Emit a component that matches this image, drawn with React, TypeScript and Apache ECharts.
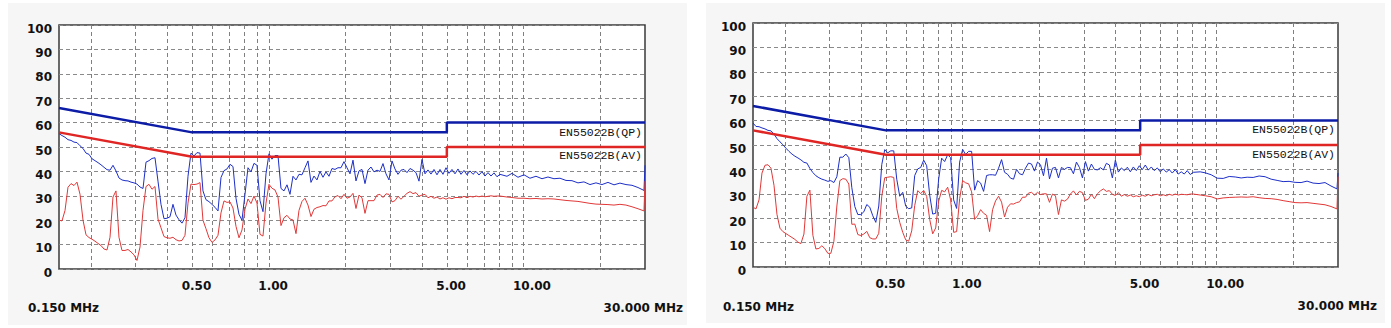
import React, { useEffect, useRef } from "react";
import * as echarts from "echarts";

// Sweep frequencies (MHz) shared by all four measured traces
const FREQ_MHZ = [
  0.1500, 0.1541, 0.1584, 0.1627, 0.1672, 0.1718, 0.1765, 0.1814, 0.1864, 0.1915,
  0.1967, 0.2021, 0.2077, 0.2134, 0.2193, 0.2253, 0.2315, 0.2379, 0.2444, 0.2511,
  0.2580, 0.2651, 0.2724, 0.2799, 0.2876, 0.2955, 0.3036, 0.3120, 0.3206, 0.3294,
  0.3384, 0.3477, 0.3573, 0.3671, 0.3772, 0.3876, 0.3982, 0.4092, 0.4204, 0.4320,
  0.4439, 0.4561, 0.4686, 0.4815, 0.4947, 0.5083, 0.5223, 0.5367, 0.5514, 0.5666,
  0.5822, 0.5982, 0.6146, 0.6315, 0.6489, 0.6668, 0.6851, 0.7039, 0.7233, 0.7432,
  0.7636, 0.7846, 0.8062, 0.8283, 0.8511, 0.8745, 0.8985, 0.9232, 0.9486, 0.9747,
  1.0015, 1.0290, 1.0573, 1.0864, 1.1163, 1.1470, 1.1785, 1.2109, 1.2442, 1.2784,
  1.3136, 1.3497, 1.3868, 1.4249, 1.4641, 1.5044, 1.5457, 1.5883, 1.6320, 1.6768,
  1.7229, 1.7703, 1.8189, 1.8689, 1.9203, 1.9731, 2.0273, 2.0831, 2.1404, 2.1993,
  2.2597, 2.3218, 2.3857, 2.4512, 2.5187, 2.5880, 2.6591, 2.7322, 2.8073, 2.8845,
  2.9638, 3.0453, 3.1290, 3.2150, 3.3035, 3.3943, 3.4876, 3.5835, 3.6821, 3.7833,
  3.8873, 3.9942, 4.1040, 4.2168, 4.3329, 4.4520, 4.5743, 4.7001, 4.8293, 4.9621,
  5.0986, 5.2388, 5.3828, 5.5308, 5.6830, 5.8392, 5.9997, 6.1647, 6.3341, 6.5083,
  6.6873, 6.8711, 7.0601, 7.2541, 7.4537, 7.6586, 7.8691, 8.0856,
  8.6138, 9.0121, 9.5144, 10.045, 10.604, 11.196, 11.820, 12.479, 13.174, 13.909,
  14.685, 15.503, 16.367, 17.280, 18.243, 19.260, 20.334, 21.467, 22.664, 23.927,
  25.261, 26.670, 28.156, 29.726, 30.0,
];

// Left panel, quasi-peak trace (dBuV)
const LEFT_QP = [
  55.5, 54.7, 54.0, 53.0, 52.7, 52.0, 51.8, 50.5, 49.4, 47.5,
  47.0, 45.2, 44.4, 43.6, 42.7, 41.7, 40.7, 40.5, 42.5, 40.2,
  37.3, 36.5, 36.2, 36.1, 35.6, 35.3, 34.8, 33.6, 33.0, 43.8,
  44.4, 45.3, 45.6, 36.0, 26.5, 20.6, 20.8, 21.4, 26.5, 22.1,
  20.2, 18.8, 21.0, 38.0, 47.5, 46.3, 47.7, 47.5, 32.0, 28.4,
  27.6, 26.5, 25.3, 23.8, 37.5, 40.3, 41.0, 42.9, 42.0, 29.0,
  22.4, 20.0, 30.6, 41.5, 39.8, 43.3, 42.5, 28.0, 23.5, 39.0,
  47.2, 45.0, 46.5, 46.5, 33.0, 32.0, 34.5, 30.6, 38.0, 36.5,
  38.8, 38.6, 41.5, 44.3, 35.5, 38.1, 36.5, 40.0, 37.6, 39.8,
  38.0, 41.2, 40.8, 41.5, 41.5, 44.0, 41.5, 39.0, 44.6, 36.1,
  40.2, 40.8, 35.0, 40.5, 41.8, 39.8, 40.5, 40.0, 43.2, 39.0,
  36.5, 44.3, 41.0, 38.8, 40.5, 40.8, 39.5, 41.2, 40.5, 39.5,
  36.0, 44.9, 39.0, 40.6, 38.9, 40.8, 38.6, 40.8, 38.8, 41.5,
  39.2, 40.8, 39.0, 41.0, 38.8, 40.4, 38.6, 40.2, 38.8, 40.0,
  38.5, 39.9, 38.1, 39.5, 38.1, 39.4, 37.8, 38.8,
  38.0, 39.2, 37.6, 38.6, 37.2, 38.0, 37.0, 37.7, 37.0, 37.2,
  36.3, 36.2, 35.3, 35.7, 34.6, 35.3, 34.6, 35.5, 34.5, 35.2,
  34.6, 34.3, 33.4, 32.2, 42.5,
];

// Left panel, average trace (dBuV)
const LEFT_AV = [
  20.0, 19.7, 24.0, 33.5, 35.0, 34.2, 35.6, 30.6, 20.0, 14.0,
  12.9, 12.2, 11.4, 10.5, 9.6, 8.2, 7.8, 13.0, 29.5, 32.0,
  13.0, 7.6, 7.6, 8.0, 7.0, 5.8, 3.5, 9.0, 24.0, 33.8,
  34.7, 32.7, 33.8, 20.5, 16.9, 13.3, 12.8, 12.6, 13.0, 12.0,
  11.5, 11.7, 13.8, 27.0, 34.8, 34.6, 34.8, 35.4, 20.0, 16.5,
  12.8, 10.9, 11.9, 13.8, 23.0, 27.9, 27.3, 27.5, 25.0, 17.5,
  12.8, 16.0, 24.5, 28.7, 26.8, 29.9, 27.0, 14.2, 13.5, 27.0,
  34.7, 33.1, 32.4, 29.5, 17.8, 21.0, 22.0, 20.5, 20.1, 14.5,
  24.0, 27.7, 29.0, 26.2, 21.5, 24.5, 25.2, 25.5, 26.0, 25.9,
  27.9, 27.9, 29.6, 30.1, 28.8, 30.6, 29.0, 29.5, 31.0, 24.8,
  30.3, 29.2, 22.8, 28.0, 28.0, 28.0, 30.3, 30.6, 29.3, 30.8,
  30.6, 27.5, 28.0, 29.8, 28.6, 29.8, 31.0, 31.7, 30.9, 31.3,
  29.8, 30.3, 30.6, 29.2, 29.8, 29.0, 29.5, 28.7, 29.2, 28.6,
  29.2, 28.8, 29.3, 29.3, 29.2, 29.8, 29.2, 29.8, 29.5, 29.9,
  29.6, 29.9, 29.6, 29.8, 30.0, 29.8, 29.9, 29.9,
  29.5, 29.3, 29.0, 29.0, 28.8, 28.9, 28.7, 28.8, 28.7, 28.4,
  28.1, 27.9, 27.7, 27.3, 26.9, 26.6, 26.5, 26.4, 26.2, 26.5,
  26.2, 25.5, 24.7, 23.8, 36.0,
];

// Right panel, quasi-peak trace (dBuV)
const RIGHT_QP = [
  59.0, 57.6, 57.5, 57.0, 56.6, 56.0, 55.8, 54.5, 52.6, 51.3,
  50.1, 48.7, 47.4, 46.3, 45.4, 44.7, 43.9, 42.9, 42.6, 40.4,
  38.7, 37.4, 36.6, 36.0, 35.6, 35.1, 35.4, 34.6, 37.0, 45.0,
  45.0, 46.3, 44.8, 32.5, 24.8, 21.5, 21.5, 22.6, 25.6, 24.5,
  21.0, 18.3, 25.0, 42.0, 48.1, 46.8, 47.6, 47.6, 36.0, 29.0,
  30.6, 24.9, 23.9, 24.2, 37.5, 40.2, 40.8, 43.8, 41.5, 29.5,
  21.7, 22.0, 36.1, 44.6, 43.2, 46.0, 44.8, 27.5, 24.0, 43.0,
  48.2, 46.1, 47.4, 47.4, 31.5, 35.4, 34.4, 31.0, 37.5, 37.8,
  37.8, 37.6, 40.5, 44.0, 38.8, 38.0, 36.4, 36.0, 40.0, 38.2,
  37.8, 40.5, 42.6, 42.2, 39.3, 43.0, 41.9, 37.4, 44.6, 36.1,
  40.5, 40.8, 36.5, 40.8, 40.0, 40.8, 40.7, 38.2, 43.0, 40.8,
  36.5, 43.2, 39.3, 42.2, 40.0, 39.8, 40.7, 39.8, 42.5, 41.8,
  36.5, 43.8, 38.9, 40.6, 39.5, 40.9, 39.0, 41.0, 39.5, 41.5,
  39.9, 41.8, 39.7, 41.0, 39.5, 40.6, 39.0, 40.2, 38.9, 39.9,
  38.5, 39.9, 38.1, 39.0, 38.1, 39.5, 37.9, 38.8,
  39.0, 38.6, 37.8, 36.4, 36.3, 37.1, 36.9, 36.5, 36.8, 36.7,
  37.3, 37.0, 36.0, 35.5, 35.0, 35.1, 34.7, 34.6, 35.2, 34.4,
  34.2, 34.6, 33.2, 32.0, 38.5,
];

// Right panel, average trace (dBuV)
const RIGHT_AV = [
  24.5, 23.8, 27.5, 38.5, 41.7, 41.9, 40.5, 33.5, 21.5, 15.9,
  14.5, 13.7, 12.9, 12.1, 11.3, 10.2, 9.6, 13.5, 29.0, 31.5,
  13.0, 7.4, 7.6, 8.7, 7.5, 5.6, 5.6, 10.5, 25.0, 35.4,
  36.2, 36.0, 34.0, 17.5, 17.6, 13.3, 12.9, 13.5, 14.6, 12.0,
  11.5, 11.5, 13.8, 29.0, 36.6, 36.8, 37.0, 36.7, 24.0, 18.3,
  14.2, 11.1, 10.6, 14.8, 25.2, 31.3, 30.1, 31.4, 28.9, 19.5,
  13.6, 16.0, 27.0, 31.4, 30.8, 32.7, 27.5, 14.2, 14.5, 28.0,
  35.4, 34.5, 34.1, 30.8, 19.5, 21.0, 23.5, 22.0, 21.2, 14.5,
  23.5, 27.1, 29.0, 26.6, 20.5, 24.5, 25.9, 25.8, 26.4, 26.7,
  28.6, 28.6, 30.3, 30.6, 29.5, 30.6, 29.7, 30.0, 30.0, 26.5,
  29.9, 29.2, 21.5, 27.5, 27.0, 27.8, 29.9, 31.2, 29.5, 31.0,
  30.5, 27.3, 27.8, 29.8, 28.0, 30.0, 31.2, 32.0, 31.0, 31.3,
  29.8, 29.3, 30.5, 29.0, 29.7, 29.0, 29.5, 28.8, 29.2, 28.8,
  29.4, 29.0, 29.7, 29.2, 29.6, 29.8, 29.2, 29.6, 29.2, 29.8,
  29.4, 29.9, 29.5, 29.8, 29.7, 29.6, 29.9, 29.9,
  29.5, 29.2, 28.8, 27.9, 28.3, 28.5, 28.6, 28.7, 28.6, 28.8,
  28.4, 28.1, 28.0, 27.7, 27.2, 26.8, 26.4, 26.3, 26.4, 26.1,
  25.8, 25.5, 24.8, 23.8, 37.0,
];

// EN55022 class B limits
const LIMIT_FREQ = [0.15, 0.5, 5, 5, 30];
const LIMIT_QP = [66, 56, 56, 60, 60];
const LIMIT_AV = [56, 46, 46, 50, 50];

const GRID_FREQ = [0.2, 0.3, 0.4, 0.5, 0.6, 0.7, 0.8, 0.9, 1, 2, 3, 4, 5, 6, 7, 8, 9, 10, 20];
const X_TICK_VALUES = [0.5, 1, 5, 10];
const X_TICK_LABELS = ["0.50", "1.00", "5.00", "10.00"];
const START_LABEL = "0.150 MHz";
const END_LABEL = "30.000 MHz";
const QP_NAME = "EN55022B(QP)";
const AV_NAME = "EN55022B(AV)";

const F_MIN = 0.15;
const F_MAX = 30;

const BOLD = "DejaVu Sans";
const LIMIT_BLUE = "#0c1ca6";
const LIMIT_RED = "#e02525";
const TRACE_BLUE = "#1d2fc6";
const TRACE_RED = "#e03838";

const lg = (f: number) => Math.log10(f);

const pairs = (fs: number[], vs: number[]) => fs.map((f, i) => [lg(f), vs[i]]);

export default function App() {
  const ref = useRef<HTMLDivElement>(null);

  useEffect(() => {
    if (!ref.current) return;
    const chart = echarts.init(ref.current, undefined, { renderer: "svg" });

    const grids = [
      { left: 59, top: 25, width: 586, height: 244 },
      { left: 753, top: 23, width: 585, height: 244 },
    ];

    const xAxisFor = (gi: number) => ({
      type: "value",
      gridIndex: gi,
      min: lg(F_MIN),
      max: lg(F_MAX),
      axisLine: { show: false },
      axisTick: { show: false, customValues: GRID_FREQ.map(lg) },
      splitLine: { show: true, lineStyle: { color: "#808080", type: [4, 3], width: 1 } },
      axisLabel: {
        customValues: X_TICK_VALUES.map(lg),
        margin: 11,
        align: "center",
        formatter: (v: number) => {
          const i = X_TICK_VALUES.findIndex((t) => Math.abs(lg(t) - v) < 1e-6);
          return i >= 0 ? `{t|${X_TICK_LABELS[i]}}` : "";
        },
        rich: {
          t: {
            width: 21,
            align: "left",
            fontFamily: BOLD,
            fontWeight: "bold",
            fontSize: 12,
            color: "#111",
          },
        },
      },
    });

    const yAxisFor = (gi: number) => ({
      type: "value",
      gridIndex: gi,
      min: 0,
      max: 100,
      interval: 10,
      axisLine: { show: false },
      axisTick: { show: false },
      splitLine: { show: true, lineStyle: { color: "#8a8a8a", type: [4, 3], width: 1 } },
      axisLabel: {
        margin: 7,
        verticalAlign: "top",
        lineHeight: 7,
        fontFamily: BOLD,
        fontWeight: "bold",
        fontSize: 12,
        color: "#111",
      },
    });

    const lineSeries = (gi: number, data: number[][], color: string, width: number, z: number) => ({
      type: "line",
      xAxisIndex: gi,
      yAxisIndex: gi,
      data,
      showSymbol: false,
      symbol: "none",
      silent: true,
      z,
      lineStyle: { color, width },
    });

    const series: any[] = [];
    const panels = [
      { qp: LEFT_QP, av: LEFT_AV },
      { qp: RIGHT_QP, av: RIGHT_AV },
    ];
    panels.forEach((p, gi) => {
      series.push(lineSeries(gi, pairs(FREQ_MHZ, p.qp), TRACE_BLUE, 1, 2));
      series.push(lineSeries(gi, pairs(FREQ_MHZ, p.av), TRACE_RED, 1, 3));
      series.push(lineSeries(gi, pairs(LIMIT_FREQ, LIMIT_QP), LIMIT_BLUE, 2.5, 4));
      series.push(lineSeries(gi, pairs(LIMIT_FREQ, LIMIT_AV), LIMIT_RED, 2.5, 4));
    });

    const txt = (text: string, x: number, y: number, align: string, font: string, size: number, bold: boolean) => ({
      type: "text",
      x,
      y,
      silent: true,
      style: {
        text,
        fill: "#111",
        fontFamily: font,
        fontSize: size,
        fontWeight: bold ? "bold" : "normal",
        align,
        verticalAlign: "middle",
      },
    });

    const MONO = "'Liberation Mono', 'Courier New', monospace";
    const graphic = [
      txt(START_LABEL, 28, 308, "left", BOLD, 12, true),
      txt(END_LABEL, 683, 308, "right", BOLD, 12, true),
      txt(START_LABEL, 723, 306.5, "left", BOLD, 12, true),
      txt(END_LABEL, 1377, 305.5, "right", BOLD, 12, true),
      txt(QP_NAME, 642, 132, "right", MONO, 11.5, false),
      txt(AV_NAME, 642, 155, "right", MONO, 11.5, false),
      txt(QP_NAME, 1335, 129.5, "right", MONO, 11.5, false),
      txt(AV_NAME, 1335, 154, "right", MONO, 11.5, false),
    ];

    chart.setOption({
      animation: false,
      backgroundColor: "transparent",
      grid: grids.map((g) => ({
        ...g,
        show: true,
        backgroundColor: "#ffffff",
        borderColor: "#3a3a3a",
        borderWidth: 1.5,
        containLabel: false,
      })),
      xAxis: [xAxisFor(0), xAxisFor(1)],
      yAxis: [yAxisFor(0), yAxisFor(1)],
      series,
      graphic,
    });

    return () => chart.dispose();
  }, []);

  return (
    <div style={{ position: "absolute", left: 0, top: 0, width: 1391, height: 328, background: "#ffffff", overflow: "hidden" }}>
      <div style={{ position: "absolute", left: 8, top: 3, width: 679, height: 322, background: "#f6f6f6" }} />
      <div style={{ position: "absolute", left: 706, top: 3, width: 679, height: 320, background: "#f6f6f6" }} />
      <div ref={ref} style={{ position: "absolute", left: 0, top: 0, width: 1391, height: 328 }} />
    </div>
  );
}
